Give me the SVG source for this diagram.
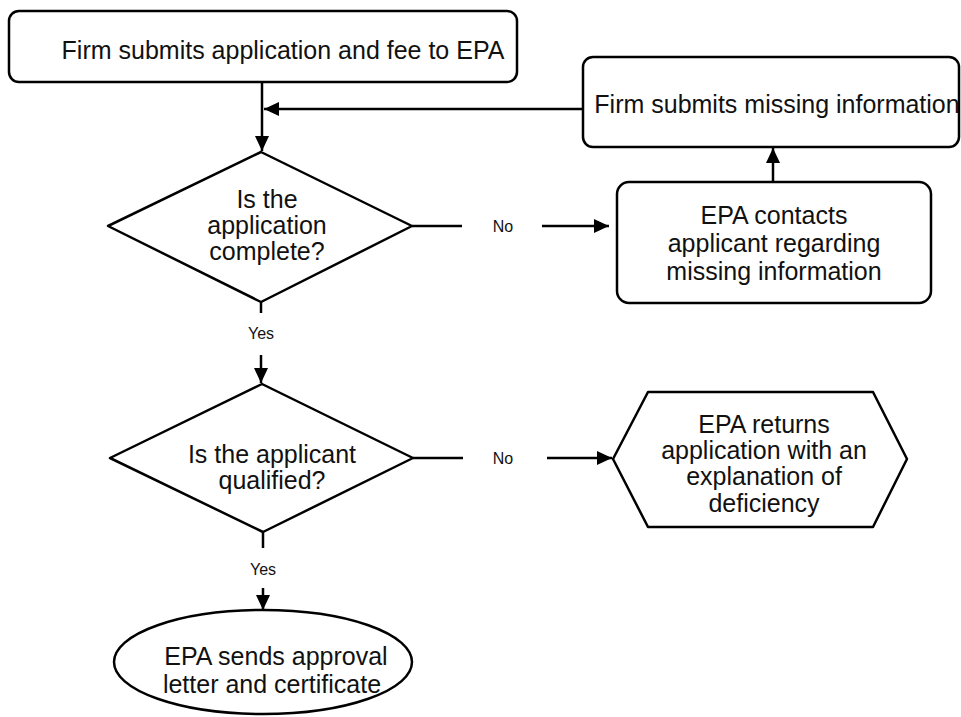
<svg xmlns="http://www.w3.org/2000/svg" width="961" height="717" viewBox="0 0 961 717">
<style>
.s{fill:#fff;stroke:#000;stroke-width:2.5;stroke-linejoin:round}
.t{font-family:"Liberation Sans",Arial,sans-serif;font-size:25px;fill:#111;text-anchor:middle}
.l{font-family:"Liberation Sans",Arial,sans-serif;font-size:16px;fill:#111;text-anchor:middle}
.c{fill:none;stroke:#000;stroke-width:2.5}
</style>
<defs>
<marker id="ah" markerUnits="userSpaceOnUse" markerWidth="16" markerHeight="14" refX="15" refY="7" orient="auto">
<path d="M0,0 L15,7 L0,14 z" fill="#000"/>
</marker>
</defs>
<rect width="961" height="717" fill="#fff"/>
<g id="connectors">
<path class="c" d="M262,82 V151" marker-end="url(#ah)"/>
<path class="c" d="M583,109 H264" marker-end="url(#ah)"/>
<path class="c" d="M412,226 H462"/>
<path class="c" d="M542,226 H609" marker-end="url(#ah)"/>
<path class="c" d="M773,182 V148" marker-end="url(#ah)"/>
<path class="c" d="M261,302 V313"/>
<path class="c" d="M261,355 V383" marker-end="url(#ah)"/>
<path class="c" d="M413,458 H463"/>
<path class="c" d="M547,458 H612" marker-end="url(#ah)"/>
<path class="c" d="M263,532 V548"/>
<path class="c" d="M263,588 V610" marker-end="url(#ah)"/>
<text class="l" x="503" y="232">No</text>
<text class="l" x="503" y="464">No</text>
<text class="l" x="261" y="339">Yes</text>
<text class="l" x="263" y="575">Yes</text>
</g>
<g id="n1">
<rect class="s" x="9" y="11" width="508" height="71" rx="10"/>
<text class="t" x="283" y="59">Firm submits application and fee to EPA</text>
</g>
<g id="n2">
<rect class="s" x="583" y="57" width="376" height="90" rx="10"/>
<text class="t" x="777" y="113">Firm submits missing information</text>
</g>
<g id="d1">
<polygon class="s" points="261,152 412,226 261,302 108,226"/>
<text class="t" x="267" y="208">Is the</text>
<text class="t" x="267" y="234">application</text>
<text class="t" x="267" y="260">complete?</text>
</g>
<g id="n3">
<rect class="s" x="617" y="182" width="314" height="121" rx="12"/>
<text class="t" x="774" y="224">EPA contacts</text>
<text class="t" x="774" y="252">applicant regarding</text>
<text class="t" x="774" y="280">missing information</text>
</g>
<g id="d2">
<polygon class="s" points="262,384 413,458 263,532 110,458"/>
<text class="t" x="272" y="463">Is the applicant</text>
<text class="t" x="272" y="489">qualified?</text>
</g>
<g id="n4">
<polygon class="s" points="648,392 873,392 907,459 873,527 648,527 613,459"/>
<text class="t" x="764" y="433">EPA returns</text>
<text class="t" x="764" y="459">application with an</text>
<text class="t" x="764" y="485">explanation of</text>
<text class="t" x="764" y="512">deficiency</text>
</g>
<g id="n5">
<ellipse class="s" cx="263" cy="662" rx="149" ry="52"/>
<text class="t" x="276" y="665">EPA sends approval</text>
<text class="t" x="272" y="693">letter and certificate</text>
</g>
</svg>
